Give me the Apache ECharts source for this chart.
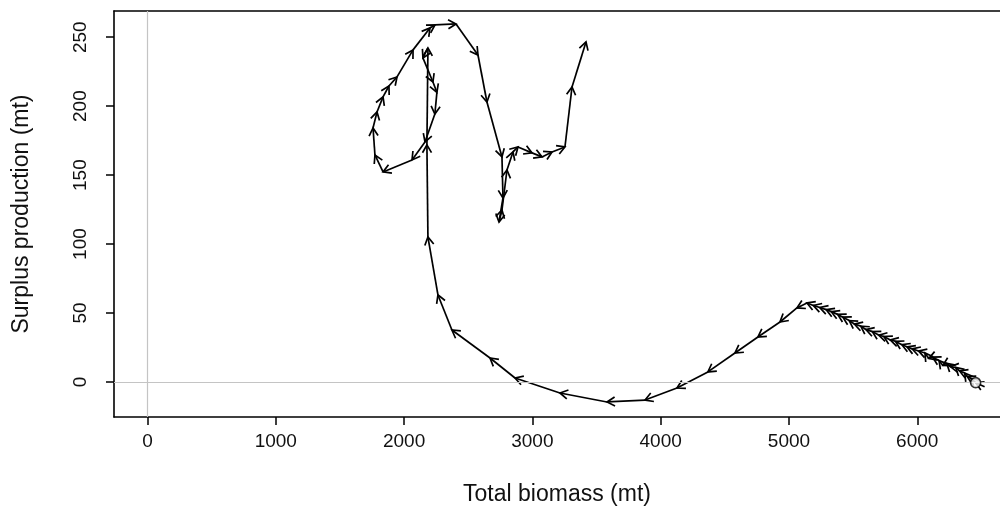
<!DOCTYPE html>
<html>
<head>
<meta charset="utf-8">
<script src="https://cdn.jsdelivr.net/npm/echarts@6/dist/echarts.min.js"></script>
<style>
html,body{margin:0;padding:0;background:#fff;}
#chart{width:1000px;height:527px;}
</style>
</head>
<body>
<div id="chart"></div>
<script>
// Trajectory, in time order (start at the open circle, right side)
const biomass = [
  6525, 6455, 6420, 6390, 6370, 6330, 6300, 6260, 6230, 6200, 6170, 6120, 6090, 6060,
  6010, 5960, 5920, 5880, 5830, 5790, 5740, 5700, 5650, 5600, 5560, 5510, 5470, 5420,
  5380, 5330, 5290, 5240, 5190, 5140,
  5062, 4930, 4758, 4579, 4368, 4127, 3878, 3582, 3215, 2865, 2670, 2373, 2264, 2186,
  2178, 2186, 2147, 2225, 2256, 2240, 2163, 2062, 1836, 1773, 1758, 1789, 1836, 1882,
  1945, 2070, 2202, 2241, 2405, 2576, 2646, 2763, 2771, 2740, 2763, 2802, 2849, 2888,
  2997, 3075, 3153, 3254, 3309, 3418
];
const production = [
  -3.5, -0.5, 2.5, 4.0, 6.5, 8.0, 10.5, 11.0, 13.5, 12.0, 15.5, 18.0, 17.0, 21.0,
  22.5, 24.0, 25.5, 27.0, 29.5, 30.5, 33.0, 34.0, 36.5, 38.0, 40.5, 42.0, 44.5, 47.0,
  49.0, 51.0, 52.5, 54.0, 55.5, 57.3,
  53.7, 43.5, 32.6, 21.0, 7.3, -4.4, -13.1, -14.5, -8.0, 2.9, 17.4, 37.7, 63.1, 105.1,
  171.9, 242.2, 235.0, 217.5, 210.0, 194.3, 174.0, 161.0, 152.3, 164.6, 184.2, 195.8, 206.7, 214.6,
  221.2, 240.8, 256.7, 258.9, 259.6, 237.1, 203.0, 163.2, 133.4, 116.0, 124.7, 153.7, 166.8, 170.4,
  166.1, 163.2, 166.8, 170.4, 213.9, 246.6
];
const startIndex = 1;
const xTicks = [0, 1000, 2000, 3000, 4000, 5000, 6000];
const yTicks = [0, 50, 100, 150, 200, 250];

const segments = [];
for (let i = 0; i < biomass.length - 1; i++) {
  segments.push([biomass[i], production[i], biomass[i + 1], production[i + 1]]);
}

const FONT = '"Liberation Sans", Arial, Helvetica, sans-serif';
const XMIN = -261, XMAX = 6645;
const chart = echarts.init(document.getElementById('chart'), null, {renderer: 'canvas'});

function renderArrow(params, api) {
  const p1 = api.coord([api.value(0), api.value(1)]);
  const p2 = api.coord([api.value(2), api.value(3)]);
  const dx = p2[0] - p1[0], dy = p2[1] - p1[1];
  const ang = Math.atan2(dy, dx);
  const L = 9, a = Math.PI / 6;
  const h1 = [p2[0] - L * Math.cos(ang - a), p2[1] - L * Math.sin(ang - a)];
  const h2 = [p2[0] - L * Math.cos(ang + a), p2[1] - L * Math.sin(ang + a)];
  const st = {stroke: '#000', lineWidth: 1.7, fill: null};
  return {
    type: 'group',
    children: [
      {type: 'line', shape: {x1: p1[0], y1: p1[1], x2: p2[0], y2: p2[1]}, style: st},
      {type: 'polyline', shape: {points: [h1, p2, h2]}, style: st}
    ]
  };
}

const plain = v => String(v);

chart.setOption({
  animation: false,
  backgroundColor: '#fff',
  grid: {left: 114, top: 11, right: 0, bottom: 110, show: false},
  xAxis: [{
    type: 'value', min: XMIN, max: XMAX, position: 'bottom',
    name: 'Total biomass (mt)', nameLocation: 'middle', nameGap: 66,
    nameTextStyle: {fontFamily: FONT, fontSize: 23, color: '#111'},
    axisLine: {show: true, onZero: false, lineStyle: {color: '#000', width: 1.6}},
    splitLine: {show: false},
    axisTick: {show: true, length: 8, lineStyle: {color: '#000', width: 1.5}, customValues: xTicks},
    axisLabel: {fontFamily: FONT, fontSize: 19, color: '#111', margin: 15, customValues: xTicks, formatter: plain}
  }, {
    type: 'value', min: XMIN, max: XMAX, position: 'top',
    axisLine: {show: true, onZero: false, lineStyle: {color: '#000', width: 1.6}},
    splitLine: {show: false}, axisTick: {show: false}, axisLabel: {show: false}
  }],
  yAxis: {
    type: 'value', min: -25.4, max: 269,
    name: 'Surplus production (mt)', nameLocation: 'middle', nameGap: 81, nameRotate: 90,
    nameTextStyle: {fontFamily: FONT, fontSize: 23, color: '#111'},
    axisLine: {show: true, onZero: false, lineStyle: {color: '#000', width: 1.6}},
    splitLine: {show: false},
    axisTick: {show: true, length: 8, lineStyle: {color: '#000', width: 1.5}, customValues: yTicks},
    axisLabel: {fontFamily: FONT, fontSize: 19, color: '#111', margin: 24, rotate: 90, customValues: yTicks, formatter: plain}
  },
  series: [
    {
      type: 'line', data: [], silent: true,
      markLine: {
        silent: true, symbol: ['none', 'none'], label: {show: false},
        lineStyle: {color: '#c4c4c4', width: 1.2, type: 'solid'},
        data: [{xAxis: 0}, {yAxis: 0}]
      }
    },
    {
      type: 'custom', renderItem: renderArrow, data: segments, clip: true, silent: true
    },
    {
      type: 'scatter', symbol: 'circle', symbolSize: 10, silent: true,
      itemStyle: {color: '#fff', borderColor: '#000', borderWidth: 1.6},
      data: [[biomass[startIndex], production[startIndex]]], z: 5
    }
  ]
});
</script>
</body>
</html>
